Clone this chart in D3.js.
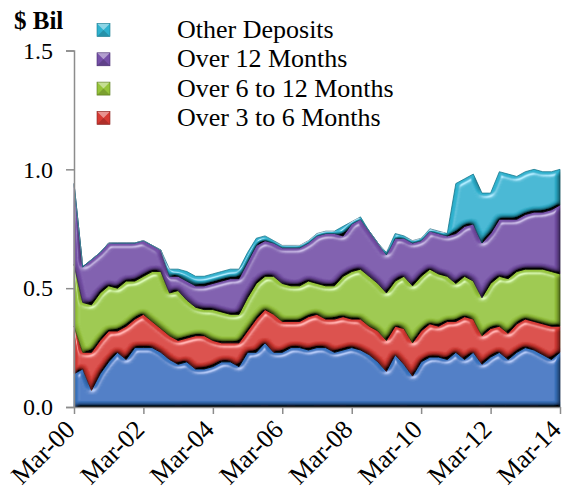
<!DOCTYPE html>
<html>
<head>
<meta charset="utf-8">
<script src="https://cdn.jsdelivr.net/npm/d3@7"></script>
<style>
  body { margin: 0; background: #fff; }
  svg { display: block; font-family: "Liberation Serif", "Times New Roman", serif; }
</style>
</head>
<body>
<div id="chart"></div>
<script>
// quarterly, Mar-00 .. Mar-14
let quarters = d3.timeMonth.range(new Date(2000, 2, 1), new Date(2014, 3, 1), 3);

let seriesNames = ["3 Months or Less", "Over 3 to 6 Months", "Over 6 to 12 Months", "Over 12 Months", "Other Deposits"];
let legendNames = ["Other Deposits", "Over 12 Months", "Over 6 to 12 Months", "Over 3 to 6 Months"];
let tickLabels = ["Mar-00", "Mar-02", "Mar-04", "Mar-06", "Mar-08", "Mar-10", "Mar-12", "Mar-14"];
let yTicks = [0, 0.5, 1.0, 1.5];

// $ billions
let upTo3 = [0.14, 0.16, 0.07, 0.14, 0.19, 0.23, 0.20, 0.25, 0.25, 0.25, 0.23, 0.20, 0.18, 0.19, 0.16, 0.16,
  0.17, 0.19, 0.19, 0.17, 0.23, 0.23, 0.27, 0.23, 0.23, 0.25, 0.25, 0.24, 0.25, 0.25, 0.23, 0.24,
  0.25, 0.24, 0.22, 0.19, 0.15, 0.22, 0.18, 0.13, 0.19, 0.21, 0.21, 0.20, 0.23, 0.20, 0.23, 0.18,
  0.21, 0.23, 0.20, 0.23, 0.25, 0.24, 0.22, 0.20, 0.23];
let over3to6 = [0.20, 0.07, 0.16, 0.14, 0.13, 0.09, 0.14, 0.12, 0.14, 0.11, 0.10, 0.10, 0.10, 0.10, 0.14, 0.14,
  0.11, 0.08, 0.08, 0.10, 0.09, 0.14, 0.14, 0.16, 0.13, 0.11, 0.11, 0.14, 0.14, 0.12, 0.14, 0.14,
  0.12, 0.13, 0.12, 0.13, 0.13, 0.12, 0.15, 0.14, 0.13, 0.14, 0.13, 0.16, 0.13, 0.18, 0.14, 0.12,
  0.12, 0.11, 0.11, 0.12, 0.12, 0.12, 0.13, 0.14, 0.11];
let over6to12 = [0.26, 0.21, 0.20, 0.20, 0.19, 0.18, 0.19, 0.16, 0.16, 0.21, 0.24, 0.18, 0.21, 0.16, 0.12, 0.11,
  0.13, 0.13, 0.12, 0.12, 0.14, 0.15, 0.14, 0.16, 0.16, 0.15, 0.15, 0.15, 0.13, 0.14, 0.14, 0.17,
  0.20, 0.21, 0.21, 0.20, 0.20, 0.19, 0.22, 0.24, 0.23, 0.23, 0.22, 0.19, 0.16, 0.17, 0.16, 0.16,
  0.19, 0.21, 0.23, 0.22, 0.21, 0.22, 0.23, 0.23, 0.22];
let over12 = [0.34, 0.15, 0.19, 0.17, 0.18, 0.19, 0.16, 0.16, 0.15, 0.11, 0.09, 0.07, 0.06, 0.08, 0.09, 0.10,
  0.11, 0.13, 0.15, 0.15, 0.15, 0.16, 0.15, 0.14, 0.15, 0.16, 0.16, 0.16, 0.20, 0.22, 0.22, 0.17,
  0.20, 0.21, 0.19, 0.17, 0.16, 0.18, 0.16, 0.18, 0.15, 0.16, 0.17, 0.17, 0.21, 0.21, 0.24, 0.23,
  0.21, 0.24, 0.25, 0.22, 0.23, 0.24, 0.24, 0.26, 0.29];
let otherDeposits = [0, 0, 0, 0, 0, 0, 0, 0, 0, 0, 0, 0.03, 0.03, 0.04, 0.04, 0.04,
  0.04, 0.04, 0.04, 0.04, 0.04, 0.03, 0.02, 0.01, 0.01, 0.01, 0.01, 0.01, 0.01, 0.01, 0.01, 0.04,
  0.01, 0.01, 0, 0, 0.01, 0.02, 0.01, 0.01, 0.01, 0.01, 0.01, 0.01, 0.21, 0.20, 0.21, 0.21,
  0.17, 0.20, 0.19, 0.18, 0.18, 0.18, 0.17, 0.16, 0.15];

let colours = ["#3a74c0", "#d63a34", "#96c43a", "#7650a8", "#2fb2cf"];
let edgeColours = ["#24518c", "#862420", "#56761c", "#462c6e", "#17788e"];
let axisColour = "#8c8c8c";

const width = 566, height = 497;
const plotLeft = 74, plotRight = 560, plotTop = 50.5, plotBottom = 407;

let svg = d3.select("#chart").append("svg")
    .attr("width", width)
    .attr("height", height);

// soft bevel, roughly like the office "3-D" fill
let defs = svg.append("defs");
let bevel = defs.append("filter").attr("id", "bevel")
    .attr("x", "-5%").attr("y", "-5%").attr("width", "110%").attr("height", "110%");
bevel.append("feGaussianBlur").attr("in", "SourceAlpha").attr("stdDeviation", 2.6).attr("result", "blur");
let diff = bevel.append("feDiffuseLighting").attr("in", "blur")
    .attr("surfaceScale", 5).attr("diffuseConstant", 1.3)
    .attr("lighting-color", "#ffffff").attr("result", "diff");
diff.append("feDistantLight").attr("azimuth", 250).attr("elevation", 50);
bevel.append("feComposite").attr("in", "SourceGraphic").attr("in2", "diff")
    .attr("operator", "arithmetic").attr("k1", 1).attr("k2", 0).attr("k3", 0).attr("k4", 0).attr("result", "shaded");
let spec = bevel.append("feSpecularLighting").attr("in", "blur")
    .attr("surfaceScale", 5).attr("specularConstant", 0.7).attr("specularExponent", 28)
    .attr("lighting-color", "#ffffff").attr("result", "spec");
spec.append("feDistantLight").attr("azimuth", 250).attr("elevation", 45);
bevel.append("feComposite").attr("in", "spec").attr("in2", "SourceAlpha").attr("operator", "in").attr("result", "specIn");
bevel.append("feComposite").attr("in", "shaded").attr("in2", "specIn")
    .attr("operator", "arithmetic").attr("k1", 0).attr("k2", 1).attr("k3", 0.6).attr("k4", 0);

let x = d3.scaleTime()
    .domain([quarters[0], quarters[quarters.length - 1]])
    .range([plotLeft, plotRight]);

let y = d3.scaleLinear()
    .domain([0, 1.5])
    .range([plotBottom, plotTop]);

let table = quarters.map(function(q, i) {
    return {
        date: q,
        "3 Months or Less": upTo3[i],
        "Over 3 to 6 Months": over3to6[i],
        "Over 6 to 12 Months": over6to12[i],
        "Over 12 Months": over12[i],
        "Other Deposits": otherDeposits[i]
    };
});

let stacked = d3.stack().keys(seriesNames)(table);

let area = d3.area()
    .x(d => x(d.data.date))
    .y0(d => y(d[0]))
    .y1(d => y(d[1]));

svg.append("g")
    .selectAll("path")
    .data(stacked)
    .enter().append("path")
    .attr("d", area)
    .attr("fill", (d, i) => colours[i])
    .attr("stroke", (d, i) => edgeColours[i])
    .attr("stroke-width", 0.8)
    .attr("stroke-linejoin", "round")
    .attr("filter", "url(#bevel)");

// axes
let yAxis = d3.axisLeft(y)
    .tickValues(yTicks)
    .tickFormat(d3.format(".1f"))
    .tickSize(8)
    .tickPadding(13);

let gy = svg.append("g")
    .attr("transform", "translate(" + plotLeft + ",0)")
    .call(yAxis);
gy.select(".domain").attr("stroke", axisColour).attr("stroke-width", 1.5);
gy.selectAll(".tick line").attr("stroke", axisColour).attr("stroke-width", 1.5);
gy.selectAll(".tick text")
    .attr("fill", "#000")
    .style("font-family", "Liberation Serif")
    .style("font-size", "24px");

let tickDates = tickLabels.map((t, i) => quarters[i * 8]);
let xAxis = d3.axisBottom(x)
    .tickValues(tickDates)
    .tickFormat((d, i) => tickLabels[i])
    .tickSize(7)
    .tickSizeOuter(0);

let gx = svg.append("g")
    .attr("transform", "translate(0," + plotBottom + ")")
    .call(xAxis);
gx.select(".domain").attr("stroke", axisColour).attr("stroke-width", 1.5);
gx.selectAll(".tick line").attr("stroke", axisColour).attr("stroke-width", 1.5);
gx.selectAll(".tick text")
    .attr("fill", "#000")
    .style("font-family", "Liberation Serif")
    .style("font-size", "26px")
    .attr("text-anchor", "end")
    .attr("dy", null)
    .attr("y", 0)
    .attr("transform", "translate(2,24) rotate(-45)");

svg.append("text")
    .attr("x", 14)
    .attr("y", 29)
    .style("font-size", "25px")
    .style("font-weight", "bold")
    .text("$ Bil");

// legend
let legendColour = {"Other Deposits": 4, "Over 12 Months": 3, "Over 6 to 12 Months": 2, "Over 3 to 6 Months": 1};
let legend = svg.append("g");
legendNames.forEach(function(name, i) {
    let ly = 30 + i * 29.3;
    let c = legendColour[name];
    let g = legend.append("g").attr("transform", "translate(97," + (ly - 6.5) + ")");
    g.append("rect").attr("width", 13).attr("height", 13).attr("fill", colours[c]);
    g.append("path").attr("d", "M0,0 L13,0 L6.5,6.5 Z").attr("fill", "#ffffff").attr("opacity", 0.45);
    g.append("path").attr("d", "M0,13 L13,13 L6.5,6.5 Z").attr("fill", "#000000").attr("opacity", 0.18);
    g.append("rect").attr("width", 13).attr("height", 13).attr("fill", "none")
        .attr("stroke", edgeColours[c]).attr("stroke-width", 0.6);
    legend.append("text")
        .attr("x", 177)
        .attr("y", ly + 8)
        .style("font-size", "26px")
        .text(name);
});
</script>
</body>
</html>
